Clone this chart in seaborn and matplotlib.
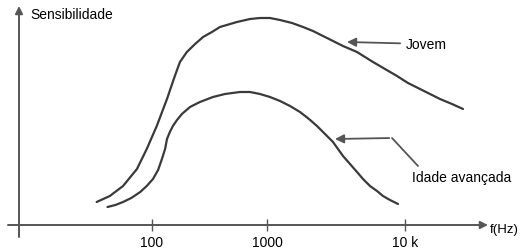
import numpy as np
import pandas as pd
import matplotlib
matplotlib.use("Agg")
import matplotlib.pyplot as plt
import seaborn as sns

# ---- data (frequency in Hz, relative sensitivity) ----
jovem_f = [33, 43, 56, 74, 90, 110, 135, 158, 175, 201, 237, 278, 332, 390,
           548, 712, 869, 1051, 1243, 1518, 1824, 2154, 2546, 3008, 3554,
           4490, 5863, 7164, 8750, 10510, 12845, 17930, 21910, 26330]
jovem_s = [23, 29, 39, 56, 76, 99, 126, 149, 163, 173, 181, 188, 193, 198,
           203, 206, 207, 207, 205, 202, 198, 194, 189, 184, 179,
           173, 163, 156, 149, 142, 136, 126, 121, 116]

idade_f = [41, 48, 56, 66, 79, 90, 102, 113, 122, 130, 135, 143, 152, 165,
           182, 214, 261, 339, 431, 582, 712, 869, 1051, 1243, 1468, 1734,
           2015, 2303, 2633, 3008, 3554, 3995, 4490, 4963, 5578, 6270, 6928,
           7786, 8898]
idade_s = [18, 20, 23, 27, 33, 39, 46, 55, 66, 76, 86, 93, 99, 105,
           111, 118, 123, 128, 131, 133, 133, 131, 128, 124, 119, 113,
           106, 99, 91, 83, 69, 61, 53, 46, 39, 34, 29,
           25, 21]

tick_values = [100, 1000, 10000]
tick_labels = ["100", "1000", "10 k"]
y_label = "Sensibilidade"
x_label = "f(Hz)"
label_jovem = "Jovem"
label_idade = "Idade avançada"

# ---- style ----
sns.set_style("white")
plt.rcParams["font.family"] = ["Liberation Sans", "DejaVu Sans"]

LINE = "#3a3a3a"
AXC = "#555555"

df = pd.concat([
    pd.DataFrame({"f": jovem_f, "s": jovem_s, "grupo": label_jovem}),
    pd.DataFrame({"f": idade_f, "s": idade_s, "grupo": label_idade}),
])

fig = plt.figure(figsize=(5.20, 2.53), dpi=100)
ax = fig.add_axes([0, 0, 1, 1])

# hand-drawn, slightly uneven decade spacing
R = 138 / 115


def fwd(f):
    L = np.log10(np.maximum(np.asarray(f, dtype=float), 1e-12))
    return np.where(L <= 3, L - 2, 1 + (L - 3) * R)


def inv(u):
    u = np.asarray(u, dtype=float)
    return np.where(u <= 1, 10 ** (u + 2), 10 ** (3 + (u - 1) / R))


ax.set_xscale("function", functions=(fwd, inv))
ax.set_xlim(4.768, 68130)
ax.set_ylim(-27, 226)

sns.lineplot(data=df, x="f", y="s", hue="grupo", units="grupo", estimator=None,
             sort=False, palette=[LINE, LINE], linewidth=1.6, legend=False,
             solid_joinstyle="round", solid_capstyle="round", ax=ax)

# axes drawn as arrows
for s in ax.spines.values():
    s.set_visible(False)
ax.spines["bottom"].set_position(("data", 0))

ax.set_xticks(tick_values)
ax.set_xticklabels(tick_labels)
ax.xaxis.set_minor_locator(matplotlib.ticker.NullLocator())
ax.tick_params(axis="x", direction="inout", length=8, width=1.0, color=AXC,
               pad=3, labelsize=10, labelcolor="black", bottom=True)
ax.set_yticks([])
ax.set_xlabel("")
ax.set_ylabel("")

arrow_kw = dict(arrowstyle="-|>", color=AXC, lw=1.4, mutation_scale=11,
                shrinkA=0, shrinkB=0)
# y axis
ax.annotate("", xy=(19 / 520, 1 - 7 / 253), xytext=(19 / 520, 1 - 238 / 253),
            xycoords="axes fraction", textcoords="axes fraction",
            arrowprops=arrow_kw)
# x axis
ax.annotate("", xy=(488 / 520, 1 - 226 / 253), xytext=(8 / 520, 1 - 226 / 253),
            xycoords="axes fraction", textcoords="axes fraction",
            arrowprops=arrow_kw)

ax.text(30 / 520, 1 - 15 / 253, y_label, transform=ax.transAxes,
        ha="left", va="center", fontsize=10, color="black")
ax.text(490 / 520, 1 - 230 / 253, x_label, transform=ax.transAxes,
        ha="left", va="center", fontsize=9.5, color="black")

# callouts
call_kw = dict(arrowstyle="-|>", color=AXC, lw=1.3, mutation_scale=13,
               shrinkA=2, shrinkB=0)
ax.annotate(label_jovem, xy=(3800, 183), xytext=(10200, 181),
            ha="left", va="center", fontsize=10, color="black",
            arrowprops=call_kw)

ax.plot([8052, 12425], [87, 59], color=AXC, lw=1.3, solid_capstyle="round")
ax.annotate("", xy=(3110, 86), xytext=(8052, 87), arrowprops=call_kw)
ax.text(11200, 48, label_idade, ha="left", va="center", fontsize=10,
        color="black")

fig.savefig("out.png", dpi=100)
